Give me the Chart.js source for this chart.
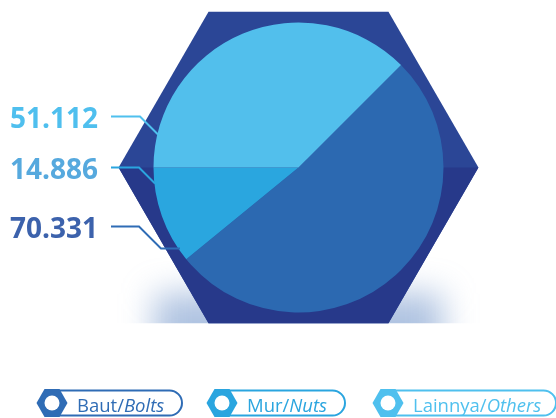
<!DOCTYPE html>
<html>
<head>
<meta charset="utf-8">
<script src="https://cdn.jsdelivr.net/npm/chart.js@4"></script>
<style>
  html, body { margin: 0; padding: 0; background: #fff; }
  #wrap { width: 556px; height: 418px; position: relative; }
</style>
</head>
<body>
<div id="wrap"><canvas id="c"></canvas></div>
<script>
// Komposisi: baut / mur / lainnya
const namesId = ['Baut', 'Mur', 'Lainnya'];
const namesEn = ['Bolts', 'Nuts', 'Others'];
const values = [70331, 14886, 51112];

const SLICE_COLORS = ['#2c69b1', '#2aa6df', '#52bfec'];
const TEXT_COLORS = ['#3c62ac', '#56a9de', '#4fbfee'];
const LINE_COLORS = ['#2f6cb5', '#2aa5df', '#4fc0ee'];

const fmt = (v) => String(v).replace(/\B(?=(\d{3})+(?!\d))/g, '.');

// segi enam kepala baut + bayangan
const boltHead = {
  id: 'boltHead',
  beforeDatasetsDraw(chart) {
    const arc = chart.getDatasetMeta(0).data[0];
    const ctx = chart.ctx;
    const cx = arc.x, cy = arc.y;
    const R = arc.outerRadius * 1.241;
    const h = R * Math.sqrt(3) / 2;
    ctx.save();
    // bayangan lembut di bawah
    ctx.beginPath();
    ctx.rect(0, 0, chart.width, cy + h);
    ctx.clip();
    ctx.filter = 'blur(16px)';
    ctx.fillStyle = 'rgba(110,145,200,0.55)';
    ctx.fillRect(cx - R * 0.8, cy + h - 30, R * 1.6, 70);
    ctx.filter = 'none';
    ctx.restore();

    ctx.save();
    ctx.fillStyle = '#2b4696';
    ctx.beginPath();
    ctx.moveTo(cx - R, cy);
    ctx.lineTo(cx - R / 2, cy - h);
    ctx.lineTo(cx + R / 2, cy - h);
    ctx.lineTo(cx + R, cy);
    ctx.lineTo(cx + R / 2, cy + h);
    ctx.lineTo(cx - R / 2, cy + h);
    ctx.closePath();
    ctx.fill();
    ctx.fillStyle = '#27398a';
    ctx.beginPath();
    ctx.moveTo(cx - R, cy);
    ctx.lineTo(cx - R / 2, cy + h);
    ctx.lineTo(cx + R / 2, cy + h);
    ctx.lineTo(cx + R, cy);
    ctx.closePath();
    ctx.fill();
    ctx.restore();
  },
};

// label angka di kiri + garis penunjuk
const sideLabels = {
  id: 'sideLabels',
  afterDatasetsDraw(chart) {
    const arc = chart.getDatasetMeta(0).data[0];
    const ctx = chart.ctx;
    const cx = arc.x, cy = arc.y;
    // urutan tampil dari atas: Others, Nuts, Bolts
    const rows = [
      { i: 2, y: cy - 51, pts: [[111, 0], [140, 0], [158, 18]] },
      { i: 1, y: cy, pts: [[111, 0], [139, 0], [155, 16]] },
      { i: 0, y: cy + 59, pts: [[111, 0], [139, 0], [161, 22], [180, 22]] },
    ];
    ctx.save();
    rows.forEach((r) => {
      ctx.strokeStyle = LINE_COLORS[r.i];
      ctx.lineWidth = 2;
      ctx.beginPath();
      r.pts.forEach(([x, dy], k) => {
        const px = cx - 298.5 + x;
        if (k === 0) ctx.moveTo(px, r.y + dy); else ctx.lineTo(px, r.y + dy);
      });
      ctx.stroke();
      ctx.fillStyle = TEXT_COLORS[r.i];
      ctx.font = 'bold 28px "Open Sans"';
      ctx.textBaseline = 'alphabetic';
      ctx.textAlign = 'left';
      ctx.fillText(fmt(chart.data.datasets[0].data[r.i]), 10, r.y + 11);
    });
    ctx.restore();
  },
};

// legenda: ikon mur dalam kapsul
const hexLegend = {
  id: 'hexLegend',
  afterDraw(chart) {
    const ctx = chart.ctx;
    const starts = [37, 207, 373];
    const ends = [182, 345, 556];
    const cy = 403;
    ctx.save();
    namesId.forEach((nm, i) => {
      const col = LINE_COLORS[i];
      const hx = starts[i] + 15;
      // kapsul
      const x0 = hx, x1 = ends[i], top = cy - 12.5, bot = cy + 12.5, rr = 12.5;
      ctx.strokeStyle = col;
      ctx.lineWidth = 2;
      ctx.beginPath();
      ctx.moveTo(x0, top);
      ctx.lineTo(x1 - rr, top);
      ctx.arc(x1 - rr, cy, rr, -Math.PI / 2, Math.PI / 2);
      ctx.lineTo(x0, bot);
      ctx.stroke();
      // segi enam
      ctx.fillStyle = col;
      ctx.beginPath();
      ctx.moveTo(hx - 15.5, cy);
      ctx.lineTo(hx - 7.5, cy - 14);
      ctx.lineTo(hx + 7.5, cy - 14);
      ctx.lineTo(hx + 15.5, cy);
      ctx.lineTo(hx + 7.5, cy + 14);
      ctx.lineTo(hx - 7.5, cy + 14);
      ctx.closePath();
      ctx.fill();
      ctx.fillStyle = '#fff';
      ctx.beginPath();
      ctx.arc(hx, cy, 7.5, 0, Math.PI * 2);
      ctx.fill();
      // teks
      ctx.fillStyle = col;
      ctx.textBaseline = 'alphabetic';
      ctx.textAlign = 'left';
      ctx.font = '18.5px "Open Sans"';
      const a = nm + '/';
      const tx = hx + 25;
      ctx.fillText(a, tx, cy + 9);
      const w = ctx.measureText(a).width;
      ctx.font = 'italic 18.5px "Open Sans"';
      ctx.fillText(namesEn[i], tx + w, cy + 9);
    });
    ctx.restore();
  },
};

new Chart(document.getElementById('c'), {
  type: 'pie',
  data: {
    labels: namesId.map((n, i) => n + '/' + namesEn[i]),
    datasets: [{
      data: values,
      backgroundColor: SLICE_COLORS,
      borderWidth: 0,
    }],
  },
  options: {
    responsive: true,
    maintainAspectRatio: false,
    animation: false,
    rotation: 45,
    layout: { padding: { left: 153.5, right: 112.5, top: 22.5, bottom: 105.5 } },
    plugins: {
      legend: { display: false },
      tooltip: { enabled: false },
    },
  },
  plugins: [boltHead, sideLabels, hexLegend],
});
</script>
</body>
</html>
